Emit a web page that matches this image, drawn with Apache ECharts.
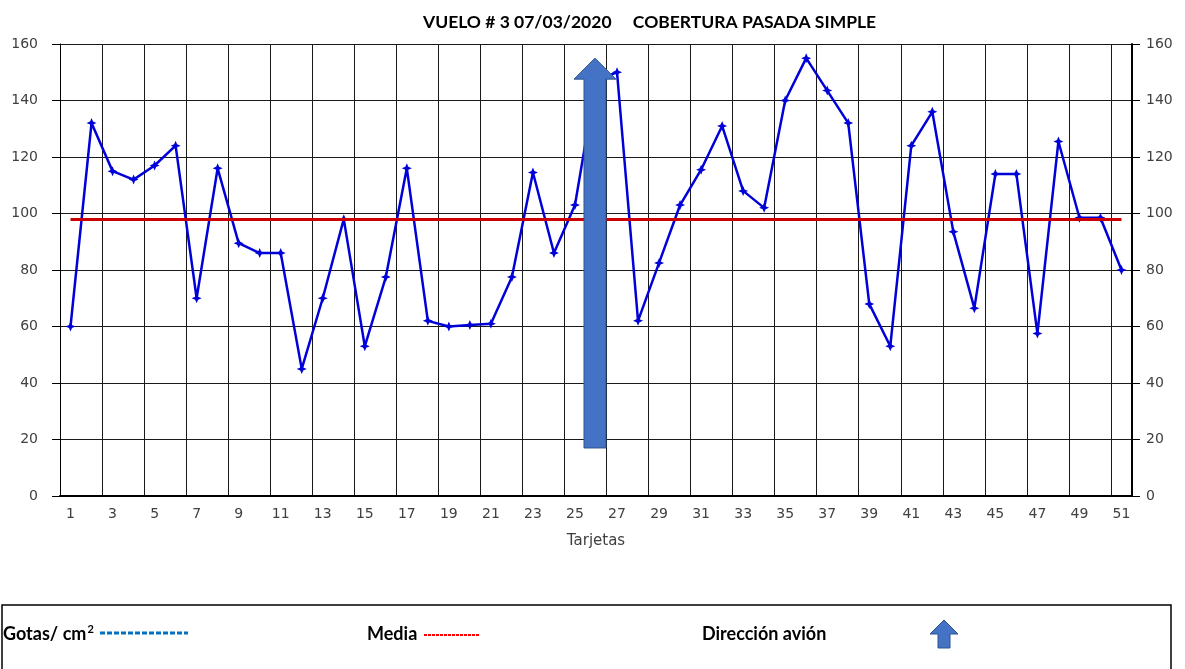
<!DOCTYPE html>
<html>
<head>
<meta charset="utf-8">
<script src="https://cdn.jsdelivr.net/npm/echarts@6/dist/echarts.min.js"></script>
<style>
  html, body { margin: 0; padding: 0; background: #fff; }
  #chart { width: 1185px; height: 669px; }
</style>
</head>
<body>
<div id="chart"></div>
<script>
  // tarjetas 1..51
  var cards = ['1','2','3','4','5','6','7','8','9','10','11','12','13','14','15','16','17',
    '18','19','20','21','22','23','24','25','26','27','28','29','30','31','32','33','34',
    '35','36','37','38','39','40','41','42','43','44','45','46','47','48','49','50','51'];
  // gotas / cm2
  var gotas = [60, 132, 115, 112, 117, 124, 70, 116, 89.5, 86,
    86, 45, 70, 98, 53, 77.5, 116, 62, 60, 60.5,
    61, 77.5, 114.5, 86, 103, 147, 150, 62, 82.5, 103,
    115.5, 131, 108, 102, 140, 155, 143.5, 132, 68, 53,
    124, 136, 93.5, 66.5, 114, 114, 57.5, 125.5, 98.5, 98.5, 80];
  var media = 98;
  // flecha direccion avion: tarjeta, desde, hasta
  var arrowCard = '26';
  var arrowFrom = 17;
  var arrowTo = 155;

  var gridColor = '#1a1a1a';
  var labelFont = 'DejaVu Sans';
  var legendFont = { fontFamily: 'Lato', fontWeight: 'bold', fontSize: 18 };

  var chart = echarts.init(document.getElementById('chart'));
  var option = {
    animation: false,
    title: {
      text: 'VUELO # 3 07/03/2020     COBERTURA PASADA SIMPLE',
      left: 418,
      top: 8,
      textStyle: { fontFamily: 'Lato', fontWeight: 'bold', fontSize: 17.5, color: '#000' }
    },
    grid: { left: 60, right: 53, top: 44, bottom: 173 },
    xAxis: {
      type: 'category',
      data: cards,
      boundaryGap: true,
      name: 'Tarjetas',
      nameLocation: 'middle',
      nameGap: 38,
      nameTextStyle: { fontFamily: labelFont, fontSize: 15, color: '#404040' },
      axisLine: { lineStyle: { color: '#000', width: 2 } },
      axisTick: { show: false },
      axisLabel: { interval: 1, margin: 11, fontFamily: labelFont, fontSize: 14, color: '#404040' },
      splitLine: { show: true, interval: 1, lineStyle: { color: gridColor, width: 1 } }
    },
    yAxis: [{
      type: 'value',
      min: 0, max: 160, interval: 20,
      axisLine: { show: true, lineStyle: { color: '#000', width: 1 } },
      axisTick: { show: true, length: 8, lineStyle: { color: '#000' } },
      axisLabel: { margin: 22, fontFamily: labelFont, fontSize: 14, color: '#404040' },
      splitLine: { show: true, lineStyle: { color: gridColor, width: 1 } }
    }, {
      type: 'value',
      position: 'right',
      min: 0, max: 160, interval: 20,
      axisLine: { show: true, lineStyle: { color: '#000', width: 2 } },
      axisTick: { show: true, length: 8, lineStyle: { color: '#000' } },
      axisLabel: { margin: 14, fontFamily: labelFont, fontSize: 14, color: '#404040' },
      splitLine: { show: false }
    }],
    series: [{
      name: 'Media',
      type: 'line',
      data: [],
      z: 2,
      markLine: {
        silent: true,
        symbol: 'none',
        label: { show: false },
        lineStyle: { color: '#cc0000', width: 3, type: 'solid' },
        data: [[{ coord: [cards[0], media] }, { coord: [cards[cards.length - 1], media] }]]
      }
    }, {
      name: 'Gotas/ cm2',
      type: 'line',
      data: gotas,
      z: 3,
      symbol: 'path://M0,5 L3.5,3.5 L5,0 L6.5,3.5 L10,5 L6.5,6.5 L5,10 L3.5,6.5 Z',
      symbolSize: 10,
      itemStyle: { color: '#0000d8' },
      lineStyle: { color: '#0000d8', width: 2.5 }
    }, {
      name: 'Direccion avion',
      type: 'custom',
      z: 5,
      data: [[arrowCard, arrowFrom, arrowTo]],
      renderItem: function (params, api) {
        var base = api.coord([api.value(0), api.value(1)]);
        var tip = api.coord([api.value(0), api.value(2)]);
        var x = base[0] - 1, sw = 11, hw = 21, hh = 21;
        return {
          type: 'polygon',
          shape: { points: [
            [x - sw, base[1]], [x - sw, tip[1] + hh], [x - hw, tip[1] + hh], [x, tip[1]],
            [x + hw, tip[1] + hh], [x + sw, tip[1] + hh], [x + sw, base[1]]
          ] },
          style: { fill: '#4472c4', stroke: '#2f528f', lineWidth: 1 }
        };
      }
    }],
    graphic: [
      { type: 'rect', shape: { x: 2, y: 605, width: 1169, height: 80 },
        style: { fill: 'none', stroke: '#000', lineWidth: 1.5 } },
      { type: 'text', x: 3, y: 634,
        style: { text: '{a|Gotas/ cm}{s|2}', verticalAlign: 'middle',
          rich: {
            a: legendFont,
            s: { fontFamily: 'Lato', fontWeight: 'bold', fontSize: 11, color: '#000', padding: [0, 0, 9, 1] }
          } } },
      { type: 'line', shape: { x1: 100, y1: 633, x2: 188, y2: 633 },
        style: { stroke: '#0070c0', lineWidth: 3, lineDash: [5, 2] } },
      { type: 'text', x: 367, y: 634,
        style: Object.assign({ text: 'Media', verticalAlign: 'middle', fill: '#000' }, legendFont) },
      { type: 'line', shape: { x1: 424, y1: 635, x2: 480, y2: 635 },
        style: { stroke: '#ff0000', lineWidth: 2, lineDash: [3, 1] } },
      { type: 'text', x: 702, y: 634,
        style: Object.assign({ text: 'Dirección avión', verticalAlign: 'middle', fill: '#000' }, legendFont) },
      { type: 'polygon',
        shape: { points: [[944, 620], [958, 634], [950, 634], [950, 648], [938, 648], [938, 634], [930, 634]] },
        style: { fill: '#4472c4', stroke: '#2f528f', lineWidth: 1 } }
    ]
  };
  chart.setOption(option);
</script>
</body>
</html>
